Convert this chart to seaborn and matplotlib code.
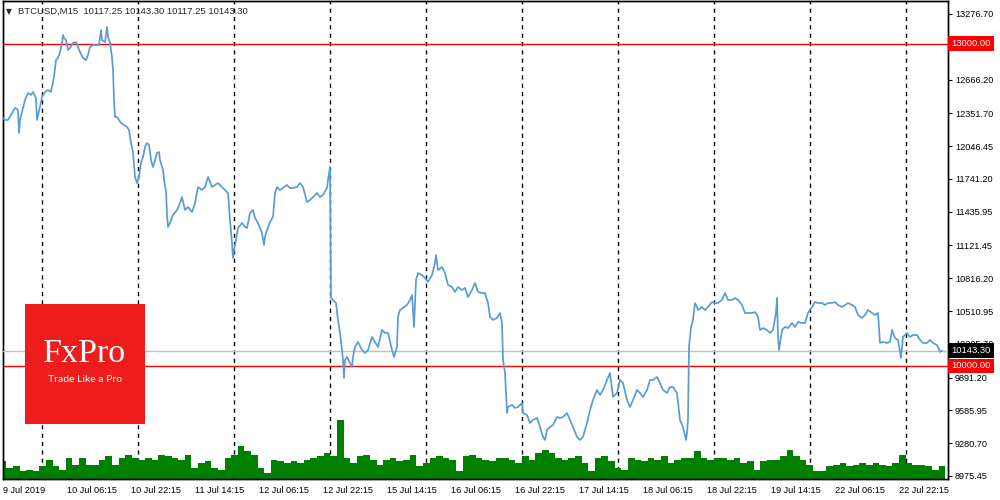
import numpy as np
import pandas as pd
import matplotlib
matplotlib.use("Agg")
from matplotlib import pyplot as plt
from matplotlib.patches import Rectangle
import seaborn as sns

# price samples (bar number from the first M15 bar, close price)
price_bar = [0, 2, 5, 9, 12, 15, 16, 17, 19, 22, 25, 28, 30, 33, 34, 37, 39, 42, 45, 48,
             51, 53, 55, 57, 59, 60, 61, 63, 65, 67, 70, 73, 75, 77, 80, 83, 85, 87, 90, 93,
             96, 98, 99, 102, 104, 105, 107, 109, 110, 111, 112, 114, 116, 118, 121, 124, 126, 128, 130, 132,
             134, 136, 138, 140, 142, 144, 146, 148, 150, 152, 154, 156, 157, 160, 162, 163, 164, 165,
             167, 170, 174, 177, 179, 182, 185, 189, 192, 195, 199, 202, 205, 209, 212, 215, 219, 222,
             225, 227, 229, 230, 231, 233, 235, 239, 242, 244, 247, 250, 252, 255, 259, 261, 262, 264,
             267, 270, 272, 274, 277, 280, 284, 287, 290, 294, 297, 300, 304, 307, 310, 314, 317, 320,
             324, 325, 327,
             328, 330, 333, 335, 337, 339, 340, 341, 342, 344, 347, 349, 350, 352, 355, 359, 362, 365,
             369, 372, 375, 379, 382, 385, 389, 391, 394, 395, 397, 400, 404, 407, 409, 410, 411, 413,
             415, 419, 422, 425, 429, 432, 433, 435, 439, 442, 445, 449, 452, 455, 459, 462, 465, 469,
             472, 475, 479, 482, 485, 487, 490, 494, 497, 499, 500, 502,
             504, 505, 509, 512, 515, 519, 520, 524, 527, 530, 534, 537, 540, 542, 544, 547, 550, 554,
             557, 560, 564, 567, 570, 574, 577, 580, 584, 587, 590, 594, 597, 600, 604, 607, 610, 614,
             617, 620, 624, 627, 630, 634, 637, 640, 644, 647, 650, 654, 657, 660, 664, 667, 670, 674,
             677, 680, 683, 684, 685, 686, 688, 690, 692, 694,
             695, 699, 702, 705, 709, 712, 715, 719, 722, 725, 729, 732, 735, 739, 742, 745, 749, 752,
             755, 757, 760, 764, 767, 770, 773, 774, 775, 776, 779, 782, 785, 789, 792, 795, 799, 802,
             805, 809, 812, 815, 819, 822, 825, 829, 832, 835, 839, 842, 845, 849, 852, 855, 859, 862,
             865, 869, 872, 875, 877, 880, 884, 887, 889, 892, 895, 898, 900, 904, 907, 910, 914, 917,
             920, 924, 927, 930, 934, 937, 939]
price_close = [12309, 12290, 12290, 12355, 12402, 12383, 12169, 12290, 12364, 12476, 12541, 12523, 12551, 12495, 12290, 12411, 12504, 12551, 12569, 12551,
               12690, 12848, 12867, 12923, 13007, 13081, 13053, 13035, 12942, 12960, 13007, 13016, 12970, 12923, 12867, 12848, 12895, 12970, 12988, 12988,
               12988, 13128, 13035, 13016, 13156, 13063, 13007, 12876, 12755, 12476, 12318, 12318, 12290, 12262, 12243, 12225, 12197, 12076, 11992, 11759,
               11703, 11759, 11890, 11945, 12038, 12076, 12057, 11918, 11852, 11918, 11983, 11992, 11918, 11824, 11666, 11638, 11405, 11294,
               11331, 11405, 11452, 11517, 11573, 11452, 11480, 11433, 11517, 11666, 11638, 11666, 11759, 11666, 11685, 11703, 11666, 11638,
               11610, 11359, 11145, 11005, 11080, 11173, 11284, 11331, 11294, 11284, 11424, 11452, 11378, 11331, 11238, 11126, 11201, 11266,
               11340, 11387, 11610, 11666, 11638, 11657, 11685, 11657, 11657, 11666, 11703, 11666, 11526, 11545, 11573, 11610, 11573, 11592,
               11657, 11731, 11852,
               10633, 10614, 10586, 10428, 10307, 10149, 10056, 9888, 10056, 10084, 10028, 9990, 10084, 10177, 10223, 10149, 10121, 10149,
               10270, 10223, 10177, 10335, 10307, 10307, 10149, 10084, 10177, 10456, 10521, 10540, 10568, 10614, 10661, 10521, 10363, 10800,
               10865, 10847, 10819, 10782, 10847, 10959, 11033, 10893, 10921, 10865, 10754, 10735, 10689, 10735, 10707, 10726, 10642, 10707,
               10772, 10689, 10679, 10679, 10586, 10456, 10428, 10447, 10493, 10400, 10055, 9934,
               9562, 9618, 9637, 9609, 9618, 9655, 9562, 9543, 9469, 9497, 9516, 9432, 9339, 9311, 9404, 9432, 9450, 9525,
               9516, 9525, 9562, 9497, 9432, 9339, 9311, 9339, 9469, 9590, 9683, 9776, 9730, 9776, 9869, 9934, 9711, 9748,
               9869, 9841, 9683, 9618, 9683, 9776, 9748, 9711, 9776, 9869, 9869, 9897, 9841, 9776, 9748, 9804, 9804, 9748,
               9497, 9432, 9311, 9376, 9497, 10177, 10363, 10428, 10586, 10549,
               10521, 10549, 10521, 10549, 10595, 10586, 10586, 10614, 10679, 10614, 10614, 10633, 10614, 10568, 10493, 10493, 10493, 10502,
               10456, 10335, 10353, 10335, 10307, 10335, 10493, 10633, 10270, 10149, 10335, 10363, 10353, 10400, 10363, 10409, 10400, 10400,
               10493, 10549, 10595, 10586, 10586, 10568, 10586, 10586, 10595, 10568, 10549, 10568, 10586, 10568, 10549, 10474, 10447, 10474,
               10521, 10493, 10474, 10493, 10214, 10223, 10214, 10223, 10335, 10260, 10242, 10074, 10270, 10307, 10270, 10288, 10288, 10242,
               10214, 10214, 10242, 10214, 10195, 10130, 10143.30]

# tick volume, sampled evenly across the bars
volume = [53, 33, 38, 23, 28, 23, 38, 58, 38, 28, 63, 43, 63, 43, 43, 58, 68, 43, 63, 73,
          63, 58, 63, 58, 73, 68, 63, 58, 73, 33, 48, 53, 33, 28, 63, 73, 98, 83, 73, 33,
          18, 58, 53, 48, 53, 48, 58, 63, 68, 78, 68, 177, 63, 48, 68, 73, 58, 43, 58, 63,
          53, 58, 73, 38, 48, 63, 68, 63, 58, 23, 68, 73, 63, 58, 53, 63,
          63, 58, 48, 68, 58, 78, 88, 78, 63, 58, 63, 68, 48, 23, 63, 68, 53, 33, 28, 63,
          58, 53, 63, 58, 68, 48, 58, 63, 63, 83, 63, 58, 63, 63, 58, 63, 48, 53, 28, 53,
          58, 58, 68, 88, 68, 58, 43, 23, 23, 38, 43, 48, 38, 43, 48, 43, 48, 43, 38, 48,
          73, 48, 43, 43, 38, 28, 38]

time_labels = ["9 Jul 2019", "10 Jul 06:15", "10 Jul 22:15", "11 Jul 14:15", "12 Jul 06:15",
               "12 Jul 22:15", "15 Jul 14:15", "16 Jul 06:15", "16 Jul 22:15", "17 Jul 14:15",
               "18 Jul 06:15", "18 Jul 22:15", "19 Jul 14:15", "22 Jul 06:15", "22 Jul 22:15"]
price_ticks = [13276.70, 12971.45, 12666.20, 12351.70, 12046.45, 11741.20, 11435.95, 11121.45,
               10816.20, 10510.95, 10205.70, 9891.20, 9585.95, 9280.70, 8975.45]
levels = [13000.00, 10000.00]
last_price = 10143.30
header = "BTCUSD,M15  10117.25 10143.30 10117.25 10143.30"

bars_per_label = 64      # 16 hours of M15 bars
first_midnight = 39      # 9 Jul 14:15 + 39 bars
bars_per_day = 96

df = pd.DataFrame({"bar": price_bar, "close": price_close})

sns.set_theme(style="white")
plt.rcParams["font.family"] = ["Liberation Sans", "DejaVu Sans"]

fig = plt.figure(figsize=(10, 5), dpi=100)
fig.patch.set_facecolor("white")
pos = [0.003, 0.042, 0.945, 0.956]
ax = fig.add_axes(pos)
ax2 = ax.twinx()
ax.set_zorder(ax2.get_zorder() + 1)
ax.patch.set_visible(False)

# volume + day separators underneath
vol_x = np.linspace(0, 939, len(volume))
ax2.bar(vol_x, volume, width=vol_x[1] - vol_x[0], color="#008000", linewidth=0, align="center", zorder=2)
ax2.set_ylim(0, 1431)
ax2.set_yticks([])
for d in range(first_midnight, 945, bars_per_day):
    ax2.axvline(d, color="black", lw=1, ls=(0, (3, 3)), zorder=1)

sns.lineplot(data=df, x="bar", y="close", ax=ax, color="#5B9BD5", lw=1.25, zorder=5)
ax.set_xlim(0, 945)
ax.set_ylim(8947.5, 13397.7)

for lv in levels:
    ax.axhline(lv, color="#FF0000", lw=1, zorder=4)
    ax.annotate(f"{lv:.2f}", xy=(1.0035, lv), xycoords=("axes fraction", "data"),
                ha="left", va="center", fontsize=6.8, color="white", zorder=10,
                bbox=dict(boxstyle="square,pad=0.3", fc="#FF0000", ec="none"), annotation_clip=False)
ax.axhline(last_price, color="#C0C0C0", lw=1, zorder=3)
ax.annotate(f"{last_price:.2f}", xy=(1.0035, last_price), xycoords=("axes fraction", "data"),
            ha="left", va="center", fontsize=6.8, color="white", zorder=10,
            bbox=dict(boxstyle="square,pad=0.3", fc="black", ec="none"), annotation_clip=False)

ax.yaxis.tick_right()
ax.set_yticks(price_ticks)
ax.set_yticklabels([f"{p:.2f}" for p in price_ticks], fontsize=6.6)
ax.tick_params(axis="y", direction="out", length=3, width=0.8, pad=2, colors="black")
ax.set_xticks(np.arange(len(time_labels)) * bars_per_label)
ax.set_xticklabels(time_labels, fontsize=6.6, ha="left")
ax.tick_params(axis="x", direction="out", length=3, width=0.8, pad=2, colors="black")
ax.set_xlabel("")
ax.set_ylabel("")
for a in (ax, ax2):
    for s in a.spines.values():
        s.set_color("black")
        s.set_linewidth(1)

fig.text(0.006, 0.977, "\u25bc", fontsize=5.5, ha="left", va="center", family=["DejaVu Sans"])
fig.text(0.018, 0.977, header, fontsize=6.8, ha="left", va="center")

# FxPro badge
fig.add_artist(Rectangle((0.025, 0.152), 0.12, 0.24, transform=fig.transFigure,
                         facecolor="#EE1C1C", edgecolor="none", zorder=20))
fig.text(0.085, 0.292, "FxPro", fontsize=24.5, color="white", ha="center", va="center",
         family=["Liberation Serif"], zorder=21)
fig.text(0.085, 0.242, "Trade Like a Pro", fontsize=7.5, color="white", ha="center", va="center",
         family=["Lato"], zorder=21)

fig.savefig("out.png", dpi=100)
